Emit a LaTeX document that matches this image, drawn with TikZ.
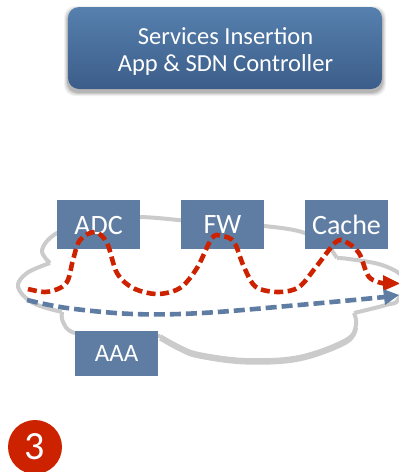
\documentclass[tikz,border=0pt]{standalone}
\usepackage{fontspec}
\setmainfont{Carlito}
\definecolor{boxblue}{HTML}{5F7DA3}
\definecolor{flowred}{HTML}{CC2200}
\definecolor{cloudgray}{HTML}{CBCBCB}
\definecolor{ctrltop}{HTML}{5680AE}
\definecolor{ctrlbot}{HTML}{3C5D89}
\tikzset{
  svc/.style={fill=boxblue,text=white,minimum width=83pt,inner sep=0pt,font=\fontsize{28}{30}\selectfont},
  cloudline/.style={draw=cloudgray,line width=4pt,line join=round},
  redflow/.style={draw=flowred,line width=4.6pt,dash pattern=on 9pt off 4.5pt,smooth,tension=0.55},
  blueflow/.style={draw=boxblue,line width=4.6pt,dash pattern=on 11pt off 5pt,smooth,tension=0.6},
}
\begin{document}
\begin{tikzpicture}[x=1pt,y=-1pt]
\useasboundingbox (0,0) rectangle (399,472);
\clip (0,0) rectangle (399,472);
% controller
\foreach \g/\o in {4/0.05,3/0.07,2/0.09,1/0.11}{
  \fill[black,opacity=\o,rounded corners=11pt] (68-\g,7+3-\g) rectangle (382+\g,89+3+\g);
}
\node[rounded corners=11pt,minimum width=314pt,minimum height=82pt,inner sep=0pt,
  top color=ctrltop,bottom color=ctrlbot] (ctrl) at (225,48) {};
\node[text=white,align=center,inner sep=0pt,font=\fontsize{24.5}{27}\selectfont] (ctrltext) at (225.5,51.5) {Services Insertion\\App \& SDN Controller};
% cloud
\draw[cloudline] plot[smooth,tension=0.6] coordinates {(50,263)(42,250)(57,233)(95,220)(140,217)(200,222)(264,226)(305,233)(331,249)}
  -- (337,258) plot[smooth,tension=0.6] coordinates {(337,258)(349,259)(382,265)(403,278)(398,300)(386,305)(354,313)}
  plot[smooth,tension=0.6] coordinates {(354,313)(356,325)(346,340)(299,357)(246,360)(199,354)(180,347)(160,336)}
  plot[smooth,tension=0.6] coordinates {(160,336)(120,338)(75,333)(63,322)(62,312)}
  plot[smooth,tension=0.6] coordinates {(62,312)(33,303)(18,287)(27,273)(50,263)};
\draw[cloudline,shift={(0,2.5)}] plot[smooth,tension=0.6] coordinates {(356,325)(346,340)(299,357)(246,360)(199,354)(180,347)(160,336)};
% boxes
\node[svc,minimum height=49pt,text depth=0pt] (adc) at (98.5,224.5) {\raisebox{-2pt}{ADC}};
\node[svc,minimum height=49pt] (fw) at (222.5,224.5) {\raisebox{-2pt}{FW}};
\node[svc,minimum height=49pt] (cache) at (346.5,224.5) {\raisebox{-2pt}{Cache}};
\node[svc,minimum height=45pt,font=\fontsize{25}{28}\selectfont] (aaa) at (116.5,353.5) {\raisebox{-2pt}{AAA}};
% badge
\node[circle,fill=flowred,text=white,minimum size=54pt,inner sep=0pt,font=\fontsize{40}{44}\selectfont] (badge) at (35,447) {\raisebox{-3pt}{3}};
% flows
\coordinate (rs) at (28,289);
\coordinate (re) at (384,283.5);
\coordinate (rt) at (400,283.5);
\coordinate (bs) at (27,300);
\coordinate (be) at (385,297);
\coordinate (bt) at (399,295);
\draw[redflow] plot coordinates {(rs)(45,292)(60,288)(68,280)(73,260)(80,240)(95,232)(107,243)(117,273)(133,288)(157,294)(180,288)(197,268)(212,238)(222,236)(234,242)(244,267)(256,287)(279,292)(299,287)(316,267)(336,242)(346,242)(359,253)(369,277)(re)};
\draw[blueflow] plot coordinates {(bs)(67,308)(133,314)(202,313)(299,305)(be)};
\fill[flowred] (rt) -- (383,275) -- (383,291) -- cycle;
\fill[boxblue] (bt) -- (383,289) -- (385,305) -- cycle;
\end{tikzpicture}
\end{document}
